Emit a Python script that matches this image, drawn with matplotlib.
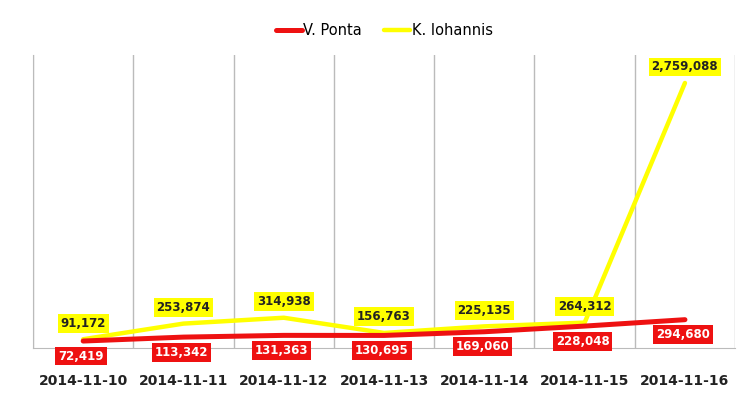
import matplotlib
matplotlib.use("Agg")
import matplotlib.pyplot as plt
import numpy as np

# daily values
dates = ['2014-11-10', '2014-11-11', '2014-11-12', '2014-11-13',
         '2014-11-14', '2014-11-15', '2014-11-16']
ponta = [72419, 113342, 131363, 130695, 169060, 228048, 294680]
iohannis = [91172, 253874, 314938, 156763, 225135, 264312, 2759088]

red = '#ee1111'
yellow = '#ffff00'

fig = plt.figure(figsize=(7.39, 4.03), dpi=100)
ax = fig.add_axes([0.0447, 0.1365, 0.950, 0.727])

x = np.arange(len(dates))
ax.plot(x, ponta, color=red, lw=3.6, solid_capstyle='round', label='V. Ponta', zorder=3)
ax.plot(x, iohannis, color=yellow, lw=3.2, solid_capstyle='round', label='K. Iohannis', zorder=2)

# value boxes
for xi, v in zip(x, ponta):
    ax.annotate(f'{v:,}', (xi, v), xytext=(-2, -15), textcoords='offset pixels',
                ha='center', va='center', fontsize=8.5, fontweight='bold', color='white',
                bbox=dict(boxstyle='square,pad=0.25', fc=red, ec='none'), zorder=5)
for xi, v in zip(x, iohannis):
    ax.annotate(f'{v:,}', (xi, v), xytext=(0, 16), textcoords='offset pixels',
                ha='center', va='center', fontsize=8.5, fontweight='bold', color='#222222',
                bbox=dict(boxstyle='square,pad=0.25', fc=yellow, ec='none'), zorder=5)

ax.set_xlim(-0.5, len(dates) - 0.5)
ax.set_ylim(0, 3050000)
ax.set_xticks(x)
ax.set_xticklabels(dates, fontsize=10, fontweight='bold', color='#222222')
ax.tick_params(axis='x', length=0, pad=19)
ax.set_yticks([])
ax.set_xticks(np.arange(-0.5, len(dates)), minor=True)
ax.tick_params(axis='x', which='minor', length=0)
ax.grid(True, which='minor', axis='x', color='#bbbbbb', lw=1)

for s in ['top', 'right']:
    ax.spines[s].set_visible(False)
for s in ['left', 'bottom']:
    ax.spines[s].set_color('#bbbbbb')

fig.legend(loc='center', bbox_to_anchor=(0.52, 0.925), ncol=2, frameon=False,
           fontsize=10.5, handlelength=1.8, handletextpad=0.1, columnspacing=1.5)

fig.savefig('out.png', dpi=100)
